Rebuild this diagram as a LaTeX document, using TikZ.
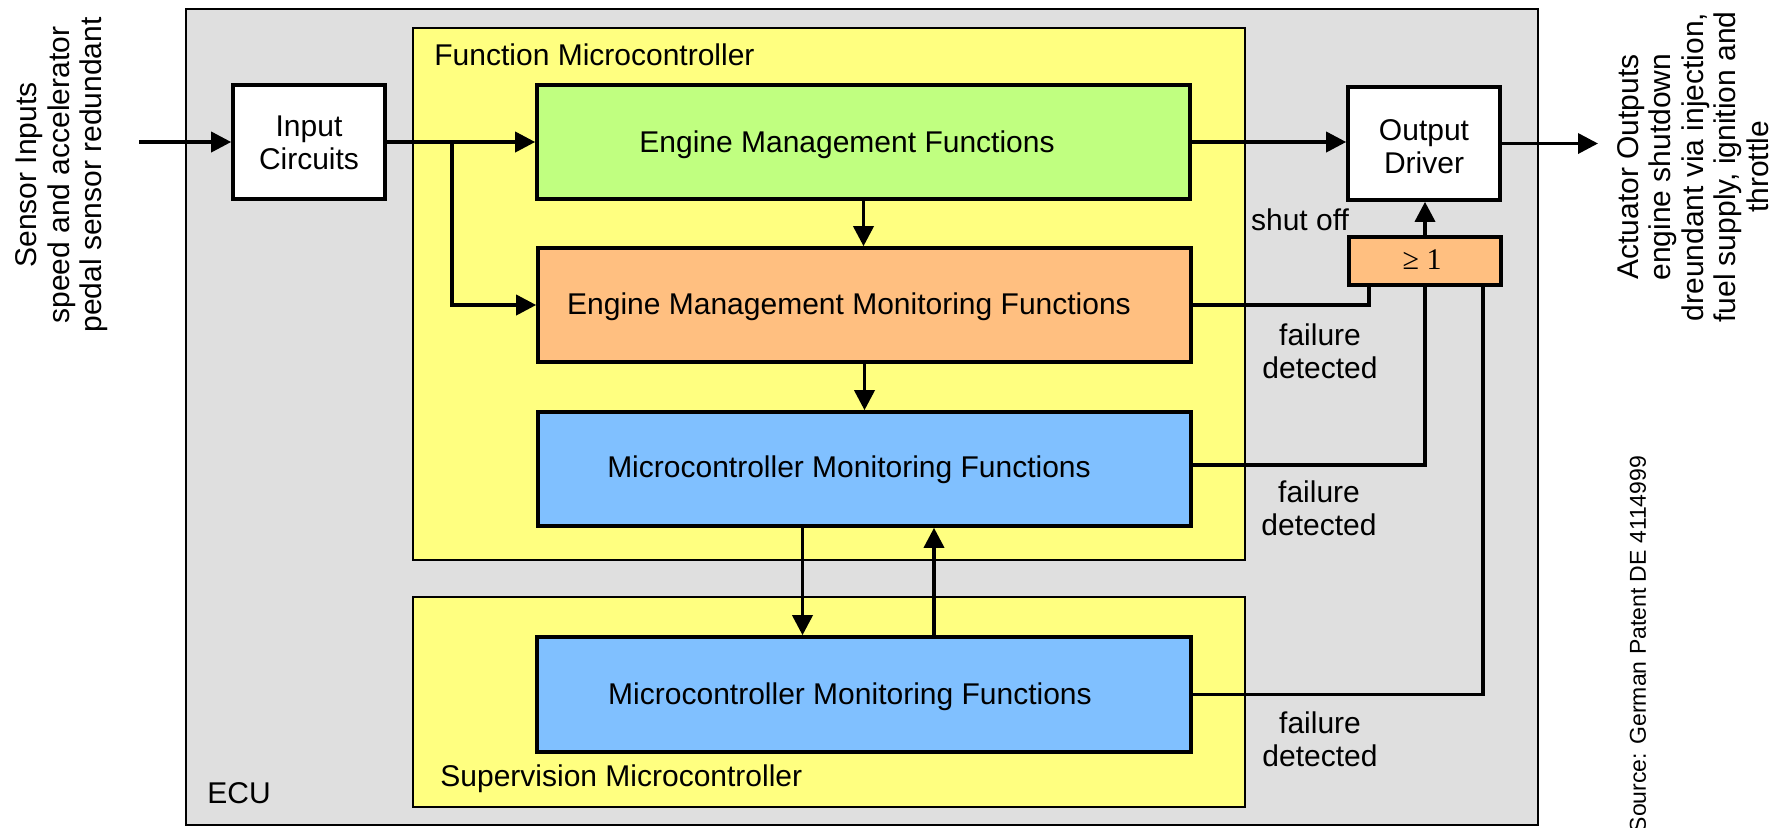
\documentclass[tikz,border=0pt]{standalone}
\usepackage{fontspec}
\setmainfont{Liberation Sans}
\newfontfamily\gatefont{Liberation Serif}
\usetikzlibrary{arrows.meta,fit}
\definecolor{ecugray}{RGB}{223,223,223}
\definecolor{mcyellow}{RGB}{255,255,128}
\definecolor{emgreen}{RGB}{192,255,128}
\definecolor{monorange}{RGB}{255,191,128}
\definecolor{mcblue}{RGB}{128,192,255}
\begin{document}
\begin{tikzpicture}[x=0.5pt,y=-0.5pt,
  every node/.style={font=\fontsize{15}{16.3}\selectfont},
  region/.style={draw=black, line width=1pt, inner sep=0pt},
  blk/.style={draw=black, line width=1.8pt, inner sep=0pt},
  wire/.style={line width=1.8pt},
  arr/.style={wire, -{Triangle[length=10pt,width=10pt]}},
  lbl/.style={align=center, inner sep=0pt},
]
\useasboundingbox (0,0) rectangle (1783,827);

% housing and the two controllers
\node[region, fill=ecugray,  fit={(186,9) (1538,825)}]   (ecu) {};
\node[region, fill=mcyellow, fit={(413,28) (1245,560)}]  (fmc) {};
\node[region, fill=mcyellow, fit={(413,597) (1245,807)}] (smc) {};

\node[lbl, anchor=west] (fmct) at (434,55)  {Function Microcontroller};
\node[lbl, anchor=west] (smct) at (440,779) {Supervision Microcontroller};
\node[lbl, anchor=west] (ecut) at (207,793) {ECU};

% functional blocks
\node[blk, fill=white,     fit={(233,85) (385,199)}]    (inp)   {};
\node[blk, fill=emgreen,   fit={(537,85) (1190,199)}]   (emf)   {};
\node[blk, fill=monorange, fit={(538,248) (1191,362)}]  (emmf)  {};
\node[blk, fill=mcblue,    fit={(538,412) (1191,526)}]  (mcmf)  {};
\node[blk, fill=mcblue,    fit={(537,637) (1191,752)}]  (smcmf) {};
\node[blk, fill=white,     fit={(1348,87) (1500,200)}]  (od)    {};
\node[blk, fill=monorange, fit={(1349,237) (1501,285)}] (gate)  {};

\node[lbl] (inpt)   at ([yshift=-0.5pt]inp.center) {Input\\Circuits};
\node[lbl] (odt)    at ([yshift=-1.5pt]od.center)  {Output\\Driver};
\node[lbl, font=\gatefont\fontsize{15}{16.3}\selectfont] (gatet) at (1422,260) {≥ 1};
\node[lbl] (emft)   at (847,145) {Engine Management Functions};
\node[lbl] (emmft)  at (849,307) {Engine Management Monitoring Functions};
\node[lbl] (mcmft)  at (849,470) {Microcontroller Monitoring Functions};
\node[lbl] (smcmft) at (850,697) {Microcontroller Monitoring Functions};

% signal labels
\node[lbl] (shut) at (1300,220) {shut off};
\node[lbl] (fd1)  at (1320,351) {failure\\detected};
\node[lbl] (fd2)  at (1319,508) {failure\\detected};
\node[lbl] (fd3)  at (1320,739) {failure\\detected};

\node[lbl, rotate=90] (sens) at (62,175)
  {Sensor Inputs\\speed and accelerator\\pedal sensor redundant};
\node[lbl, rotate=90] (act) at (1693,167)
  {Actuator Outputs\\engine shutdown\\dreundant via injection,\\fuel supply, ignition and\\throttle};
\node[lbl, rotate=90, font=\fontsize{11.5}{13}\selectfont] (src) at (1638,644)
  {Source: German Patent DE 4114999};

% connectors
\coordinate (sin)   at (139,142);
\coordinate (aout)  at (1598,143.5);
\coordinate (split) at (452,142);
\coordinate (dn1) at ([xshift=-31pt]mcmf.south);
\coordinate (up1) at ([xshift=34.75pt]mcmf.south);

\draw[arr] (sin) -- (inp.west);
\draw[arr] (inp.east) -- (emf.west);
\draw[arr] (split) |- (emmf.west);
\draw[arr] (emf.south) -- (emf.south |- emmf.north);
\draw[arr] (emmf.south) -- (emmf.south |- mcmf.north);
\draw[arr] (dn1) -- (dn1 |- smcmf.north);
\draw[arr] (up1 |- smcmf.north) -- (up1);
\draw[arr] (emf.east) -- (emf.east -| od.west);
\draw[arr] (od.east) -- (aout);
\draw[arr] (gate.north) -- (gate.north |- od.south);
\draw[wire] (emmf.east) -| ([xshift=-28pt]gate.south);
\draw[wire] ([yshift=2pt]mcmf.east) -| (gate.south);
\draw[wire] (smcmf.east) -| ([xshift=29pt]gate.south);
\end{tikzpicture}
\end{document}
